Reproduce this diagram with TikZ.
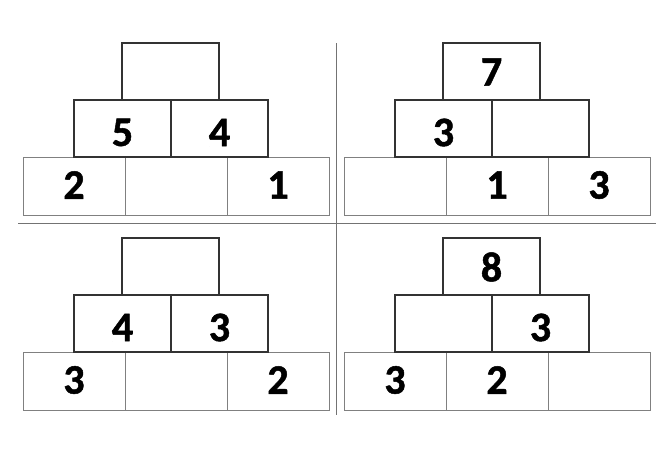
\documentclass[tikz,border=0pt]{standalone}
\usepackage{fontspec}
\setmainfont{Carlito}
\newfontfamily\numfont{Carlito}[UprightFont=* Bold, FakeBold=1.2]
\begin{document}
\begin{tikzpicture}[x=1pt,y=-1pt,
  darkbox/.style={draw=black!80, line width=1.2pt, minimum width=97pt, minimum height=57pt, inner sep=0pt, outer sep=0pt},
  lightbox/.style={draw=black!50, line width=0.9pt, minimum width=102pt, minimum height=58pt, inner sep=0pt, outer sep=0pt},
  num/.style={font=\numfont\fontsize{42}{42}\selectfont, inner sep=0pt, text=black},
  divider/.style={draw=black!55, line width=1pt}]
\useasboundingbox (0,0) rectangle (668,467);

% dividers
\coordinate (hl) at (18,223);
\coordinate (hr) at (656,223);
\coordinate (vt) at (336.5,43);
\coordinate (vb) at (336.5,415);
\draw[divider] (hl) -- (hr);
\draw[divider] (vt) -- (vb);

% pyramid macro: #1 name, #2 origin
\newcommand\mypyr[2]{%
  \begin{scope}[shift={#2}]
    \node[lightbox] (#1-b1) at (51,143) {};
    \node[lightbox] (#1-b2) at (153,143) {};
    \node[lightbox] (#1-b3) at (255,143) {};
    \node[darkbox] (#1-m1) at (99.5,85.5) {};
    \node[darkbox] (#1-m2) at (196.5,85.5) {};
    \node[darkbox] (#1-t) at (147.5,28.5) {};
  \end{scope}}

\mypyr{A}{(23,43)}
\mypyr{B}{(344,43)}
\mypyr{C}{(23,238)}
\mypyr{D}{(344,238)}

% numbers A
\node[num] (nA-m1) at ([yshift=-4pt]A-m1.center) {5};
\node[num] (nA-m2) at ([yshift=-4pt]A-m2.center) {4};
\node[num] (nA-b1) at ([yshift=1pt]A-b1.center) {2};
\node[num] (nA-b3) at ([yshift=1pt]A-b3.center) {1};
% numbers B
\node[num] (nB-t) at ([yshift=-0.5pt]B-t.center) {7};
\node[num] (nB-m1) at ([yshift=-4pt]B-m1.center) {3};
\node[num] (nB-b2) at ([yshift=1pt]B-b2.center) {1};
\node[num] (nB-b3) at ([yshift=1pt]B-b3.center) {3};
% numbers C
\node[num] (nC-m1) at ([yshift=-4pt]C-m1.center) {4};
\node[num] (nC-m2) at ([yshift=-4pt]C-m2.center) {3};
\node[num] (nC-b1) at ([yshift=1pt]C-b1.center) {3};
\node[num] (nC-b3) at ([yshift=1pt]C-b3.center) {2};
% numbers D
\node[num] (nD-t) at ([yshift=-0.5pt]D-t.center) {8};
\node[num] (nD-m2) at ([yshift=-4pt]D-m2.center) {3};
\node[num] (nD-b1) at ([yshift=1pt]D-b1.center) {3};
\node[num] (nD-b2) at ([yshift=1pt]D-b2.center) {2};
\end{tikzpicture}
\end{document}
